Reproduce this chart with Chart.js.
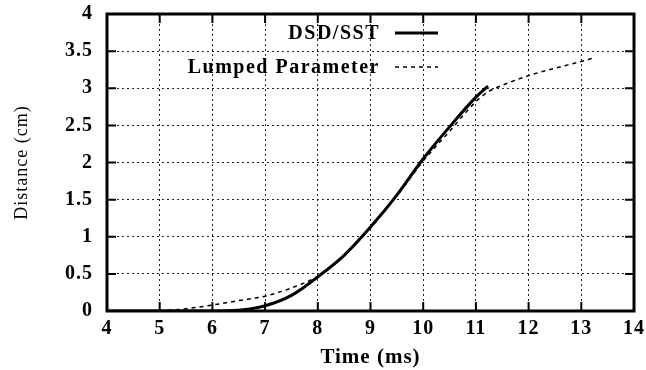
<!DOCTYPE html>
<html>
<head>
<meta charset="utf-8">
<script src="https://cdn.jsdelivr.net/npm/chart.js@4/dist/chart.umd.min.js"></script>
<style>
  html, body { margin: 0; padding: 0; background: #fff; }
  #wrap { width: 646px; height: 370px; }
</style>
</head>
<body>
<div id="wrap"><canvas id="c" width="646" height="370"></canvas></div>
<script>
// values
var dsdTime = [4, 5, 6, 6.5, 7, 7.5, 8, 8.5, 9, 9.5, 10, 10.5, 11, 11.23];
var dsdDist = [0, 0, 0, 0.01, 0.07, 0.21, 0.46, 0.75, 1.13, 1.56, 2.05, 2.48, 2.88, 3.03];

var lumpedTime = [5, 5.5, 6, 6.5, 7, 7.5, 8, 8.5, 9, 9.5, 10, 10.5, 11, 11.25, 11.5, 12, 12.5, 13, 13.2];
var lumpedDist = [0, 0.03, 0.08, 0.14, 0.2, 0.31, 0.47, 0.75, 1.12, 1.55, 2.02, 2.42, 2.82, 2.96, 3.04, 3.17, 3.27, 3.36, 3.40];

var seriesNames = ["DSD/SST", "Lumped Parameter"];
var xLimits = [4, 14];
var yLimits = [0, 4];

function pts(xs, ys) {
	return xs.map(function(x, i) { return {x: x, y: ys[i]}; });
}

var serif = "'Liberation Serif', 'DejaVu Serif', serif";

var frame = {
	id: "frame",
	beforeDraw: function(chart) {
		var ctx = chart.ctx;
		ctx.fillStyle = "#fff";
		ctx.fillRect(0, 0, chart.width, chart.height);
		// the scanned labels are a bit wider than Liberation Serif
		ctx.letterSpacing = "1px";
	},
	afterDraw: function(chart) {
		var ctx = chart.ctx, a = chart.chartArea;
		var xs = chart.scales.x, ys = chart.scales.y;
		ctx.save();
		ctx.strokeStyle = "#000";
		ctx.lineWidth = 2;
		// inward tick marks
		xs.ticks.forEach(function(t) {
			var px = xs.getPixelForValue(t.value);
			ctx.beginPath();
			ctx.moveTo(px, a.bottom); ctx.lineTo(px, a.bottom - 9);
			ctx.moveTo(px, a.top); ctx.lineTo(px, a.top + 9);
			ctx.stroke();
		});
		ys.ticks.forEach(function(t) {
			var py = ys.getPixelForValue(t.value);
			ctx.beginPath();
			ctx.moveTo(a.left, py); ctx.lineTo(a.left + 9, py);
			ctx.moveTo(a.right, py); ctx.lineTo(a.right - 9, py);
			ctx.stroke();
		});
		ctx.lineWidth = 3;
		ctx.strokeRect(a.left, a.top, a.right - a.left, a.bottom - a.top);

		// legend, text first then sample line
		ctx.font = "bold 20px " + serif;
		ctx.letterSpacing = "1.5px";
		ctx.fillStyle = "#000";
		ctx.textAlign = "right";
		ctx.textBaseline = "alphabetic";
		chart.data.datasets.forEach(function(ds, i) {
			var y = 33 + i * 34;
			ctx.fillText(ds.label, 380, y + 6);
			ctx.beginPath();
			ctx.lineWidth = ds.borderWidth;
			ctx.setLineDash(ds.borderDash || []);
			ctx.moveTo(395, y); ctx.lineTo(438, y);
			ctx.stroke();
			ctx.setLineDash([]);
		});
		ctx.restore();
	}
};

new Chart(document.getElementById("c"), {
	type: "scatter",
	data: {
		datasets: [
			{label: seriesNames[0], data: pts(dsdTime, dsdDist), showLine: true, borderColor: "#000", borderWidth: 3, pointRadius: 0, cubicInterpolationMode: "monotone"},
			{label: seriesNames[1], data: pts(lumpedTime, lumpedDist), showLine: true, borderColor: "#000", borderWidth: 1.5, borderDash: [4, 4], pointRadius: 0, cubicInterpolationMode: "monotone"}
		]
	},
	options: {
		responsive: false,
		animation: false,
		layout: {padding: {left: 0, top: 14, right: 12, bottom: 0}},
		plugins: {legend: {display: false}, tooltip: {enabled: false}},
		scales: {
			x: {
				type: "linear", min: xLimits[0], max: xLimits[1],
				ticks: {stepSize: 1, color: "#000", padding: 6, font: {family: serif, size: 20, weight: "bold"}},
				grid: {color: "#222", lineWidth: 1, drawTicks: false},
				border: {display: false, dash: [2, 3]},
				title: {display: true, text: "Time (ms)", color: "#000", font: {family: serif, size: 21, weight: "bold"}, padding: {top: 0, bottom: 0}},
				afterFit: function(s) { s.height = 59; s.paddingLeft = 0; s.paddingRight = 0; }
			},
			y: {
				type: "linear", min: yLimits[0], max: yLimits[1],
				ticks: {stepSize: 0.5, color: "#000", padding: 14, font: {family: serif, size: 20, weight: "bold"},
					callback: function(v) { return String(+v); }},
				grid: {color: "#222", lineWidth: 1, drawTicks: false},
				border: {display: false, dash: [2, 3]},
				title: {display: true, text: "Distance (cm)", color: "#000", font: {family: serif, size: 18}, padding: {top: 11, bottom: 0}},
				afterFit: function(s) { s.width = 107; s.paddingTop = 0; s.paddingBottom = 0; }
			}
		}
	},
	plugins: [frame]
});
</script>
</body>
</html>
